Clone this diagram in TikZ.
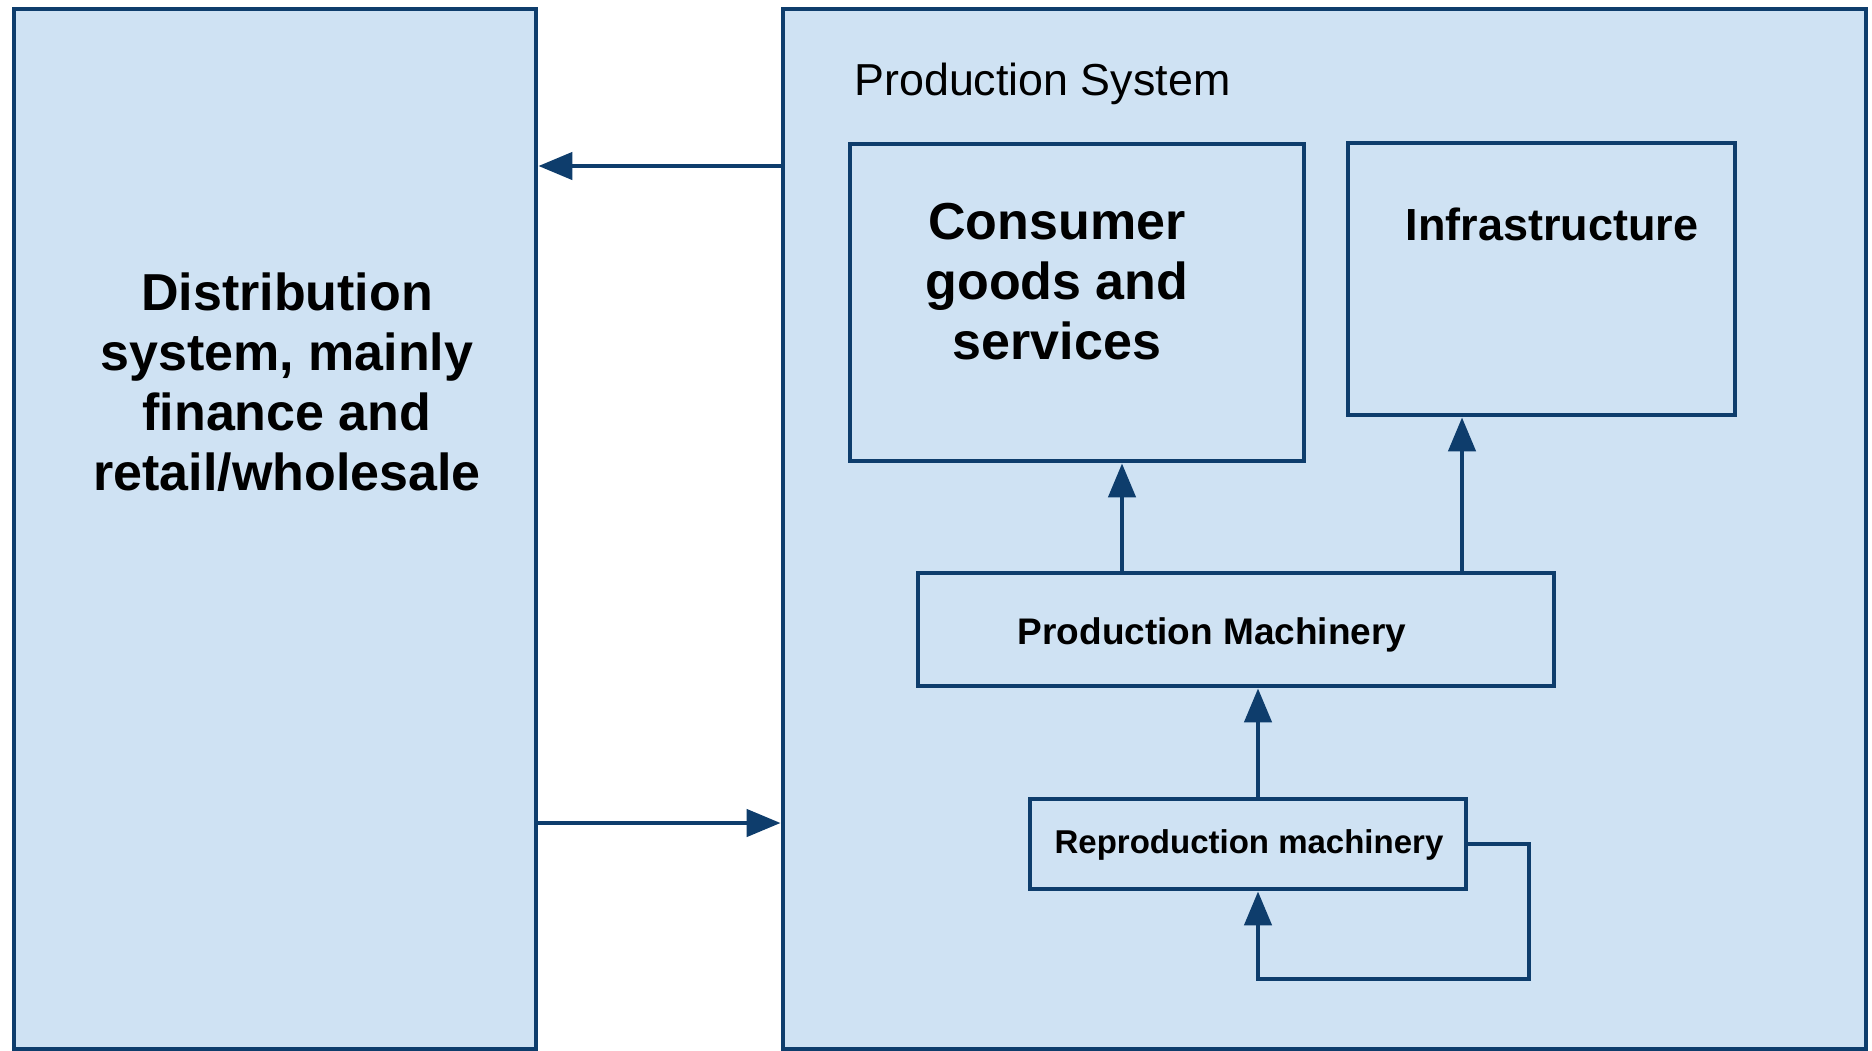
\documentclass[tikz,border=0pt]{standalone}
\usepackage{fontspec}
\setmainfont{Liberation Sans}
\usetikzlibrary{arrows.meta,fit}
\definecolor{boxfill}{HTML}{CFE2F3}
\definecolor{boxline}{HTML}{0E3D6C}
\begin{document}
\begin{tikzpicture}[x=0.5pt,y=-0.5pt,
  box/.style={draw=boxline, fill=boxfill, line width=2.4pt, inner sep=0pt},
  arr/.style={draw=boxline, line width=2.3pt, -{Triangle[length=17pt,width=13.5pt]}},
  big/.style={font=\fontsize{26}{30}\selectfont\bfseries, align=center, inner sep=0pt},
  mid/.style={font=\fontsize{22.5}{27}\selectfont\bfseries, inner sep=0pt},
  small/.style={font=\fontsize{18.5}{22}\selectfont\bfseries, inner sep=0pt},
  tiny/.style={font=\fontsize{16.5}{20}\selectfont\bfseries, inner sep=0pt}]
\useasboundingbox (0,0) rectangle (1872,1050);
\begin{scope}
\clip (0,0) rectangle (1872,1050);
% boxes
\node[box, fit={(14,9) (536,1049)}] (dist) {};
\node[box, fit={(783,9) (1866,1049)}] (prod) {};
\end{scope}
\node[box, fit={(850,144) (1304,461)}] (cons) {};
\node[box, fit={(1348,143) (1735,415)}] (infra) {};
\node[box, fit={(918,573) (1554,686)}] (pm) {};
\node[box, fit={(1030,799) (1466,889)}] (repro) {};
% texts
\node[big] (disttext) at (287,382) {Distribution\\system, mainly\\finance and\\retail/wholesale};
\node[font=\fontsize{22.4}{27}\selectfont, anchor=west, inner sep=0pt] (prodtext) at (854,84) {Production System};
\node[big] (constext) at (1057,282) {Consumer\\goods and\\services};
\node[mid] (infratext) at (1552,224) {Infrastructure};
\node[small] (pmtext) at (1212,635) {Production Machinery};
\node[tiny] (reprotext) at (1249,845) {Reproduction machinery};
% helper coordinates
\coordinate (yTop) at (0,166);
\coordinate (yBot) at (0,823);
\coordinate (xCons) at (1122,0);
\coordinate (xInfra) at (1462,0);
\coordinate (loopA) at (1529,979);
\coordinate (loopB) at (1258,979);
% connectors
\draw[arr] (prod.west |- yTop) -- (dist.east |- yTop);
\draw[arr] (dist.east |- yBot) -- (prod.west |- yBot);
\draw[arr] (pm.north -| xCons) -- (cons.south -| xCons);
\draw[arr] (pm.north -| xInfra) -- (infra.south -| xInfra);
\draw[arr] (repro.north -| loopB) -- (pm.south -| loopB);
\draw[arr] (repro.east) -| (loopA) -- (loopB) -- (repro.south -| loopB);
\end{tikzpicture}
\end{document}
